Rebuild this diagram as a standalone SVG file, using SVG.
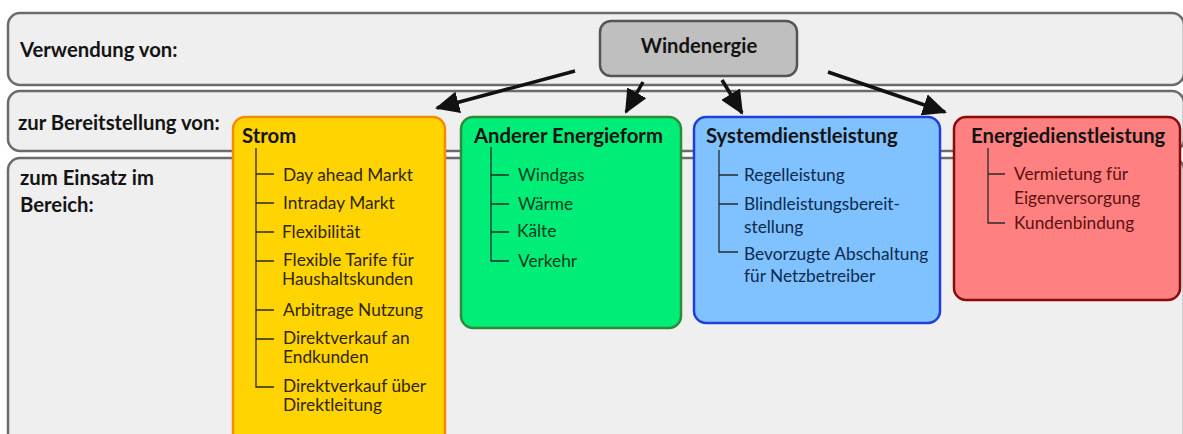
<svg xmlns="http://www.w3.org/2000/svg" width="1183" height="434" viewBox="0 0 1183 434">
  <defs>
    <marker id="head" markerUnits="userSpaceOnUse" markerWidth="24" markerHeight="22" viewBox="0 0 24 22" refX="22" refY="11" orient="auto">
      <path d="M0,0 L24,11 L0,22 z" fill="#111"/>
    </marker>
  </defs>
  <style>
    .band { fill: #efefef; stroke: #6b6b6b; stroke-width: 2.5; }
    .lbl { font-family: Lato, "Liberation Sans", sans-serif; font-weight: bold; font-size: 20.3px; fill: #141414; }
    .title { font-family: Lato, "Liberation Sans", sans-serif; font-weight: bold; font-size: 20.3px; fill: #141414; }
    .item { font-family: Lato, "Liberation Sans", sans-serif; font-size: 17.3px; }
    .tree { fill: none; stroke: #2a2a2a; stroke-width: 1.3; }
    .arrow { stroke: #111; stroke-width: 3.5; fill: none; marker-end: url(#head); }
  </style>

  <!-- row bands -->
  <g id="row-verwendung">
    <rect class="band" x="8" y="13" width="1176" height="72" rx="12"/>
    <text class="lbl" x="20" y="57">Verwendung von:</text>
  </g>
  <g id="row-bereitstellung">
    <rect class="band" x="8" y="91" width="1176" height="60" rx="12"/>
    <text class="lbl" x="18" y="130">zur Bereitstellung von:</text>
  </g>
  <g id="row-einsatz">
    <rect class="band" x="8" y="158" width="1176" height="300" rx="12"/>
    <text class="lbl" x="20" y="185">zum Einsatz im</text>
    <text class="lbl" x="20" y="212">Bereich:</text>
  </g>

  <!-- source -->
  <g id="windenergie">
    <rect x="600" y="21" width="197" height="55" rx="11" fill="#bfbfbf" stroke="#555" stroke-width="2.5"/>
    <text class="title" x="699" y="53" text-anchor="middle">Windenergie</text>
  </g>

  <!-- connectors -->
  <g id="connectors">
    <line class="arrow" x1="575" y1="71" x2="437" y2="108"/>
    <line class="arrow" x1="643" y1="82" x2="626" y2="112"/>
    <line class="arrow" x1="722" y1="80" x2="742" y2="113"/>
    <line class="arrow" x1="828" y1="72" x2="945" y2="112"/>
  </g>

  <!-- Strom -->
  <g id="strom">
    <rect x="233" y="117" width="212" height="330" rx="12" fill="#ffd400" stroke="#f28c00" stroke-width="2.5"/>
    <text class="title" x="242" y="143">Strom</text>
    <path class="tree" d="M256,148 V387 H274 M256,174 H274 M256,203 H274 M256,232 H274 M256,261 H274 M256,310 H274 M256,339 H274"/>
    <g class="item" fill="#2e2600">
      <text x="283" y="181">Day ahead Markt</text>
      <text x="283" y="209">Intraday Markt</text>
      <text x="282" y="238">Flexibilität</text>
      <text x="283" y="266">Flexible Tarife für</text>
      <text x="282" y="285">Haushaltskunden</text>
      <text x="283" y="316">Arbitrage Nutzung</text>
      <text x="283" y="344">Direktverkauf an</text>
      <text x="283" y="363">Endkunden</text>
      <text x="283" y="392">Direktverkauf über</text>
      <text x="283" y="411">Direktleitung</text>
    </g>
  </g>

  <!-- Anderer Energieform -->
  <g id="energieform">
    <rect x="461" y="117" width="220" height="211" rx="12" fill="#00ee78" stroke="#2e8b3a" stroke-width="2.5"/>
    <text class="title" x="474" y="143">Anderer Energieform</text>
    <path class="tree" d="M491,147 V261 H509 M491,175 H509 M491,204 H509 M491,232 H509"/>
    <g class="item" fill="#003d1c">
      <text x="518" y="181">Windgas</text>
      <text x="518" y="210">Wärme</text>
      <text x="517" y="237">Kälte</text>
      <text x="518" y="267">Verkehr</text>
    </g>
  </g>

  <!-- Systemdienstleistung -->
  <g id="systemdienst">
    <rect x="694" y="117" width="246" height="206" rx="12" fill="#80c1ff" stroke="#1e40d8" stroke-width="2.5"/>
    <text class="title" x="706" y="143">Systemdienstleistung</text>
    <path class="tree" d="M719,150 V252 H738 M719,175 H738 M719,204 H738"/>
    <g class="item" fill="#0d2a4d">
      <text x="744" y="181">Regelleistung</text>
      <text x="744" y="210">Blindleistungsbereit-</text>
      <text x="744" y="233">stellung</text>
      <text x="744" y="260">Bevorzugte Abschaltung</text>
      <text x="744" y="282">für Netzbetreiber</text>
    </g>
  </g>

  <!-- Energiedienstleistung -->
  <g id="energiedienst">
    <rect x="954" y="117" width="226" height="183" rx="12" fill="#ff8080" stroke="#8b0a0a" stroke-width="2.5"/>
    <text class="title" x="971" y="143">Energiedienstleistung</text>
    <path class="tree" d="M988,148 V223 H1005 M988,174 H1005"/>
    <g class="item" fill="#5c1010">
      <text x="1014" y="180">Vermietung für</text>
      <text x="1014" y="204">Eigenversorgung</text>
      <text x="1014" y="229">Kundenbindung</text>
    </g>
  </g>
</svg>
